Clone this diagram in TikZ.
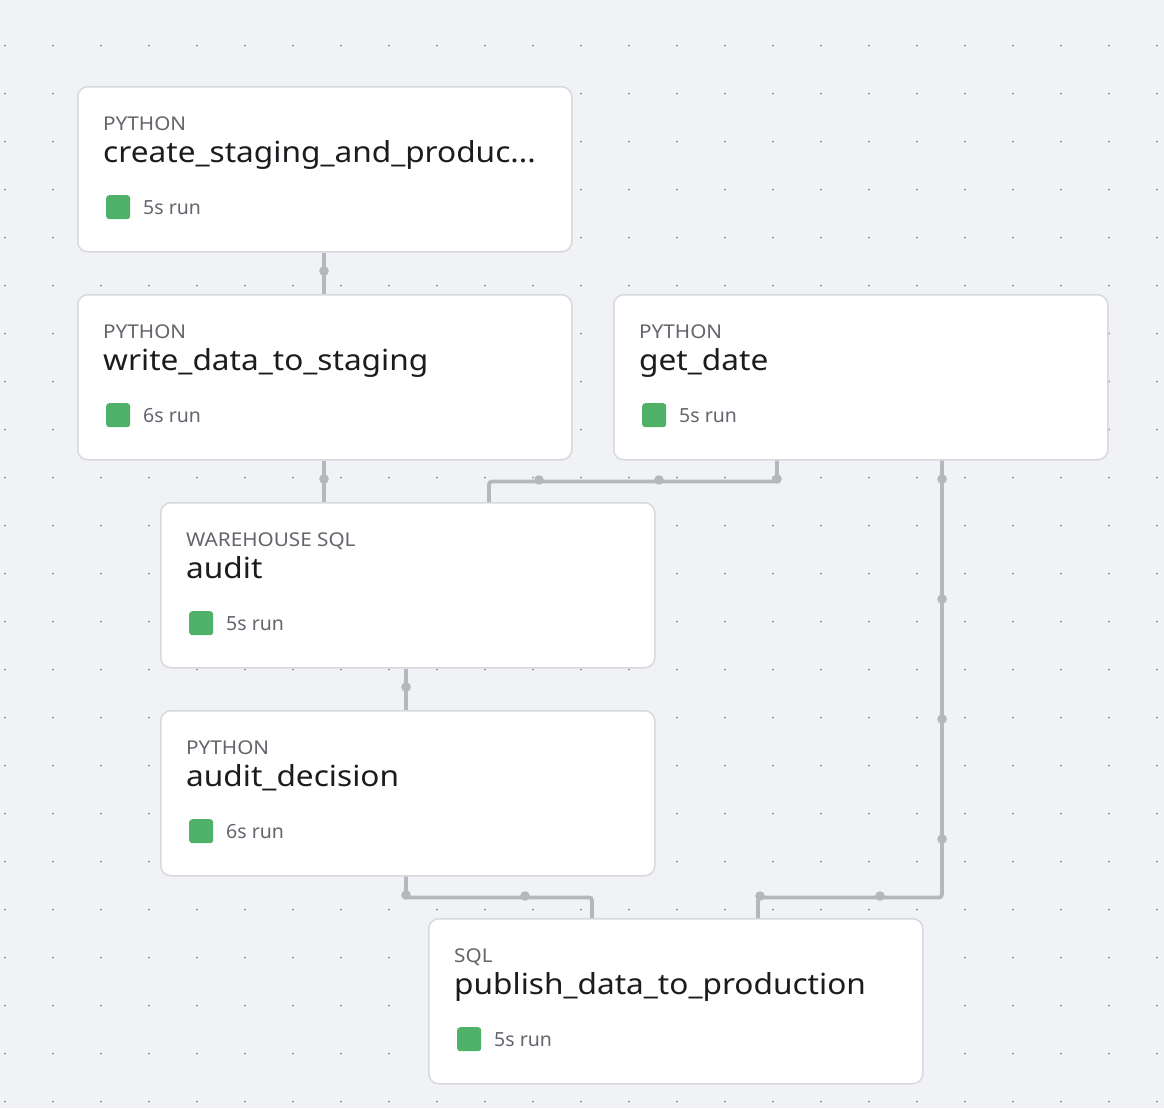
\documentclass[tikz,border=0pt]{standalone}
\usepackage{fontspec}
\setmainfont{Noto Sans}
\newfontfamily\widefont[FakeStretch=1.09]{Noto Sans}
\usetikzlibrary{calc}
\definecolor{bg}{RGB}{241,242,246}
\definecolor{boxborder}{RGB}{216,217,223}
\definecolor{conn}{RGB}{182,183,189}
\definecolor{griddot}{RGB}{140,141,150}
\definecolor{titlecol}{RGB}{28,28,32}
\definecolor{labcol}{RGB}{100,100,108}
\definecolor{okgreen}{RGB}{80,177,104}
\tikzset{
 taskbox/.style={draw=boxborder, line width=1.5pt, fill=white, rounded corners=10pt, minimum width=494pt, minimum height=165pt, inner sep=0pt, anchor=north west},
 kindlabel/.style={text=labcol, font=\widefont\fontsize{19}{19}\selectfont, anchor=base west, inner sep=0pt},
 tasktitle/.style={text=titlecol, font=\widefont\fontsize{29}{29}\selectfont, anchor=base west, inner sep=0pt},
 runlabel/.style={text=labcol, font=\fontsize{19.5}{19.5}\selectfont, anchor=base west, inner sep=0pt},
 statusbox/.style={fill=okgreen, rounded corners=3pt, minimum size=24pt, inner sep=0pt, anchor=north west},
 edge/.style={draw=conn, line width=3.8pt, rounded corners=3pt},
}
\newcommand{\drawtask}[6]{%
 \node[taskbox] (#1) at (#2,#3) {};
 \node[kindlabel] (#1-kind) at ([shift={(26,44)}]#1.north west) {#4};
 \node[tasktitle] (#1-title) at ([shift={(26,76)}]#1.north west) {#5};
 \node[statusbox] (#1-st) at ([shift={(29,109)}]#1.north west) {};
 \node[runlabel] (#1-run) at ([shift={(66,128)}]#1.north west) {#6};
}
\begin{document}
\begin{tikzpicture}[x=1pt,y=-1pt]
\fill[bg] (0,0) rectangle (1164,1108);
\useasboundingbox (0,0) rectangle (1164,1108);
\foreach \i in {0,...,24}{\foreach \j in {0,...,22}{\fill[griddot] (5+48*\i,45.7+48*\j) circle (1);}}
\drawtask{b1}{77}{86}{PYTHON}{create\_staging\_and\_produc...}{5s run}
\drawtask{b2}{77}{294}{PYTHON}{write\_data\_to\_staging}{6s run}
\drawtask{b3}{613}{294}{PYTHON}{get\_date}{5s run}
\drawtask{b4}{160}{502}{WAREHOUSE SQL}{audit}{5s run}
\drawtask{b5}{160}{710}{PYTHON}{audit\_decision}{6s run}
\drawtask{b6}{428}{918}{SQL}{publish\_data\_to\_production}{5s run}
% connectors
\draw[edge] ([xshift=247pt]b1.south west) -- ([xshift=247pt]b2.north west);
\draw[edge] ([xshift=247pt]b2.south west) -- ([xshift=164pt]b4.north west);
\draw[edge] ([xshift=164pt]b3.south west) -- ++(0,21) -| ([xshift=329pt]b4.north west);
\draw[edge] ([xshift=246pt]b4.south west) -- ([xshift=246pt]b5.north west);
\draw[edge] ([xshift=246pt]b5.south west) -- ++(0,21) -| ([xshift=164pt]b6.north west);
\draw[edge] ([xshift=329pt]b3.south west) -- ++(0,437) -| ([xshift=330pt]b6.north west);
\foreach \p in {(324,271),(324,479),(777,479),(659,480),(539,480),(406,687),(406,895),(525,896),(942,479),(942,599),(942,719),(942,839),(880,896),(760,896)}{\fill[conn] \p circle (4.8);}
\end{tikzpicture}
\end{document}
